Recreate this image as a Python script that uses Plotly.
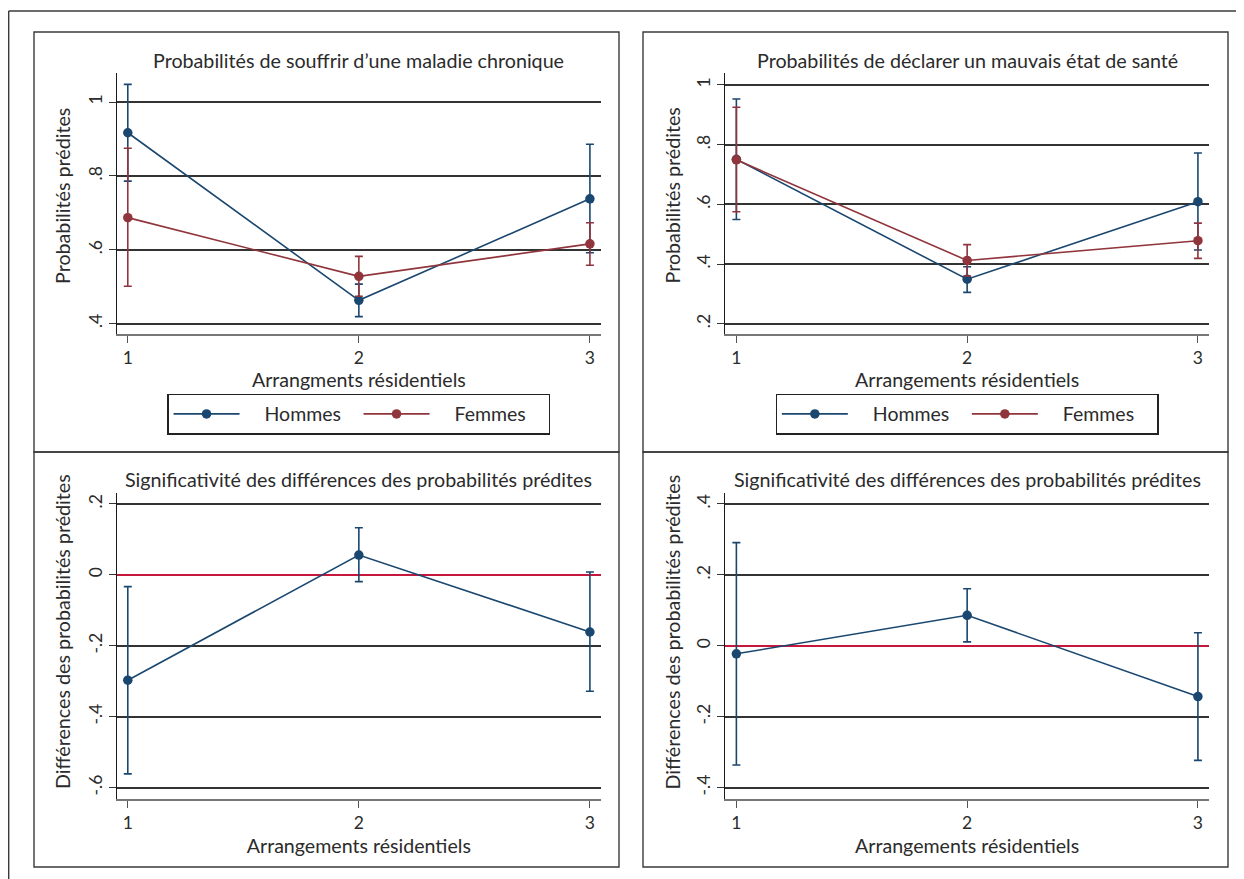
import plotly.graph_objects as go

# The page body has an 8px default margin: the figure is sized so that it
# exactly fills the rest of the 1244x879 window.
PAGE_W, PAGE_H = 1244, 879
OFF = 8
W, H = PAGE_W - OFF, PAGE_H - OFF

# ---------------- data ----------------
arrangements = [1, 2, 3]

# Probabilités de souffrir d'une maladie chronique
chron_h = [0.917, 0.463, 0.738]
chron_h_lo = [0.786, 0.419, 0.592]
chron_h_hi = [1.048, 0.507, 0.886]
chron_f = [0.687, 0.528, 0.616]
chron_f_lo = [0.501, 0.474, 0.558]
chron_f_hi = [0.875, 0.582, 0.673]

# Probabilités de déclarer un mauvais état de santé
sante_h = [0.751, 0.349, 0.609]
sante_h_lo = [0.549, 0.305, 0.447]
sante_h_hi = [0.953, 0.391, 0.772]
sante_f = [0.749, 0.412, 0.478]
sante_f_lo = [0.575, 0.360, 0.419]
sante_f_hi = [0.925, 0.465, 0.537]

# Différences (maladie chronique)
diff_chron = [-0.297, 0.056, -0.161]
diff_chron_lo = [-0.561, -0.019, -0.328]
diff_chron_hi = [-0.033, 0.133, 0.008]

# Différences (mauvais état de santé)
diff_sante = [-0.0225, 0.086, -0.143]
diff_sante_lo = [-0.336, 0.011, -0.323]
diff_sante_hi = [0.291, 0.161, 0.037]

x_ticks = [1, 2, 3]
x_ticktext = ["1", "2", "3"]
yt_chron = [0.4, 0.6, 0.8, 1.0]
yt_chron_txt = [".4", ".6", ".8", "1"]
yt_sante = [0.2, 0.4, 0.6, 0.8, 1.0]
yt_sante_txt = [".2", ".4", ".6", ".8", "1"]
yt_dchron = [-0.6, -0.4, -0.2, 0.0, 0.2]
yt_dchron_txt = ["-.6", "-.4", "-.2", "0", ".2"]
yt_dsante = [-0.4, -0.2, 0.0, 0.2, 0.4]
yt_dsante_txt = ["-.4", "-.2", "0", ".2", ".4"]

titles = [
    "Probabilités de souffrir d’une maladie chronique",
    "Probabilités de déclarer un mauvais état de santé",
    "Significativité des différences des probabilités prédites",
    "Significativité des différences des probabilités prédites",
]
xtitles = [
    "Arrangments résidentiels",
    "Arrangements résidentiels",
    "Arrangements résidentiels",
    "Arrangements résidentiels",
]
ytitles = [
    "Probabilités prédites",
    "Probabilités prédites",
    "Différences des probabilités prédites",
    "Différences des probabilités prédites",
]
series_names = ["Hommes", "Femmes"]

# ---------------- style ----------------
FONT = "Lato"
TXT = "#2b2b2b"
NAVY = "#1a476f"
MAROON = "#90353b"
RED0 = "#c8173c"
GRID = "#333333"
LEG_PAD = "\u00a0" * 4   # visual gap between legend symbol and label


def px_x(x):
    return (x - OFF) / W


def px_y(y):
    return 1 - (y - OFF) / H


fig = go.Figure()


def add_series(y, lo, hi, name, color, xa, ya, legend, showlegend):
    plus = [h - v for h, v in zip(hi, y)]
    minus = [v - l for v, l in zip(y, lo)]
    fig.add_trace(go.Scatter(
        x=arrangements, y=y, name=name, mode="lines+markers",
        xaxis=xa, yaxis=ya, legend=legend, showlegend=showlegend,
        line=dict(color=color, width=1.6),
        marker=dict(color=color, size=9.5),
        error_y=dict(type="data", array=plus, arrayminus=minus,
                     color=color, thickness=1.6, width=4),
    ))


h_lab = LEG_PAD + series_names[0]
f_lab = LEG_PAD + series_names[1]
add_series(chron_h, chron_h_lo, chron_h_hi, h_lab, NAVY, "x", "y", "legend", True)
add_series(chron_f, chron_f_lo, chron_f_hi, f_lab, MAROON, "x", "y", "legend", True)
add_series(sante_h, sante_h_lo, sante_h_hi, h_lab, NAVY, "x2", "y2", "legend2", True)
add_series(sante_f, sante_f_lo, sante_f_hi, f_lab, MAROON, "x2", "y2", "legend2", True)
add_series(diff_chron, diff_chron_lo, diff_chron_hi, "Différence", NAVY, "x3", "y3", "legend", False)
add_series(diff_sante, diff_sante_lo, diff_sante_hi, "Différence", NAVY, "x4", "y4", "legend", False)

# plot-area geometry (page pixels)
PX_L = [116.7, 725.3]
PX_R = [601.0, 1209.0]
PY_TOP = [(73.3, 334.3), (493.3, 798.7)]
YTITLE_X = [62.0, 671.5]
YTITLE_Y = [196.0, 632.0]
TITLE_Y = [60.7, 479.3]

yranges = [[0.371, 1.078], [0.1645, 1.039], [-0.631, 0.230], [-0.431, 0.430]]
yticks = [(yt_chron, yt_chron_txt), (yt_sante, yt_sante_txt),
          (yt_dchron, yt_dchron_txt), (yt_dsante, yt_dsante_txt)]

layout = dict(
    width=W, height=H,
    margin=dict(l=0, r=0, t=0, b=0),
    paper_bgcolor="white", plot_bgcolor="white",
    font=dict(family=FONT, color=TXT, size=15),
    showlegend=True,
)

for i in range(4):
    col = i % 2
    row = i // 2
    sfx = "" if i == 0 else str(i + 1)
    xa = "xaxis" + sfx
    ya = "yaxis" + sfx
    top, bot = PY_TOP[row]
    layout[xa] = dict(
        domain=[px_x(PX_L[col]), px_x(PX_R[col])],
        anchor="y" + sfx,
        range=[0.952, 3.048],
        tickmode="array", tickvals=x_ticks, ticktext=x_ticktext,
        ticks="outside", ticklen=7, tickwidth=1.2, tickcolor="#555555",
        showline=True, linecolor="#777777", linewidth=1.6,
        showgrid=False, zeroline=False,
        tickfont=dict(size=17.5, color=TXT),
        title=dict(text=xtitles[i], font=dict(size=19.6, color=TXT),
                   standoff=0 if row == 0 else 8),
        fixedrange=True,
    )
    tv, tt = yticks[i]
    layout[ya] = dict(
        domain=[px_y(bot), px_y(top)],
        anchor="x" + sfx,
        range=yranges[i],
        tickmode="array", tickvals=tv, ticktext=tt,
        ticks="outside", ticklen=7, tickwidth=1.2, tickcolor="#333333",
        tickangle=-90,
        showline=True, linecolor="#1a1a1a", linewidth=1.4,
        showgrid=True, gridcolor=GRID, gridwidth=1.5,
        zeroline=(row == 1), zerolinecolor=RED0, zerolinewidth=2,
        tickfont=dict(size=17.5, color=TXT),
        fixedrange=True,
    )

# legends under the top panels
for j, lg in enumerate(["legend", "legend2"]):
    layout[lg] = dict(
        orientation="h",
        x=px_x((PX_L[j] + PX_R[j]) / 2), xanchor="center",
        y=px_y(393.5), yanchor="top",
        bordercolor="#222222", borderwidth=1.2,
        bgcolor="white",
        font=dict(family=FONT, size=19.5, color=TXT),
        itemwidth=66,
        entrywidth=109, entrywidthmode="pixels",
        tracegroupgap=0,
    )

annotations = []
for i in range(4):
    col = i % 2
    row = i // 2
    # subplot title
    annotations.append(dict(
        text=titles[i], xref="paper", yref="paper",
        x=px_x((PX_L[col] + PX_R[col]) / 2), y=px_y(TITLE_Y[row]),
        xanchor="center", yanchor="middle", showarrow=False,
        font=dict(family=FONT, size=19.7, color=TXT),
    ))
    # y-axis title
    annotations.append(dict(
        text=ytitles[i], xref="paper", yref="paper",
        x=px_x(YTITLE_X[col]), y=px_y(YTITLE_Y[row]),
        xanchor="center", yanchor="middle", showarrow=False, textangle=-90,
        font=dict(family=FONT, size=19.7, color=TXT),
    ))
layout["annotations"] = annotations

# panel frames and outer frame
shapes = []
panels = [(34, 32, 619, 452), (643, 32, 1228, 452),
          (34, 452, 619, 867), (643, 452, 1228, 867)]
for (x0, y0, x1, y1) in panels:
    shapes.append(dict(type="rect", xref="paper", yref="paper",
                       x0=px_x(x0), x1=px_x(x1), y0=px_y(y1), y1=px_y(y0),
                       line=dict(color="#3a3a3a", width=1.4), layer="below"))
shapes.append(dict(type="line", xref="paper", yref="paper",
                   x0=px_x(8.7), x1=px_x(8.7), y0=px_y(879), y1=px_y(11),
                   line=dict(color="#3a3a3a", width=1.4)))
shapes.append(dict(type="line", xref="paper", yref="paper",
                   x0=px_x(8.7), x1=px_x(1244), y0=px_y(11), y1=px_y(11),
                   line=dict(color="#3a3a3a", width=1.4)))
layout["shapes"] = shapes

fig.update_layout(**layout)
fig.write_html("out.html")
